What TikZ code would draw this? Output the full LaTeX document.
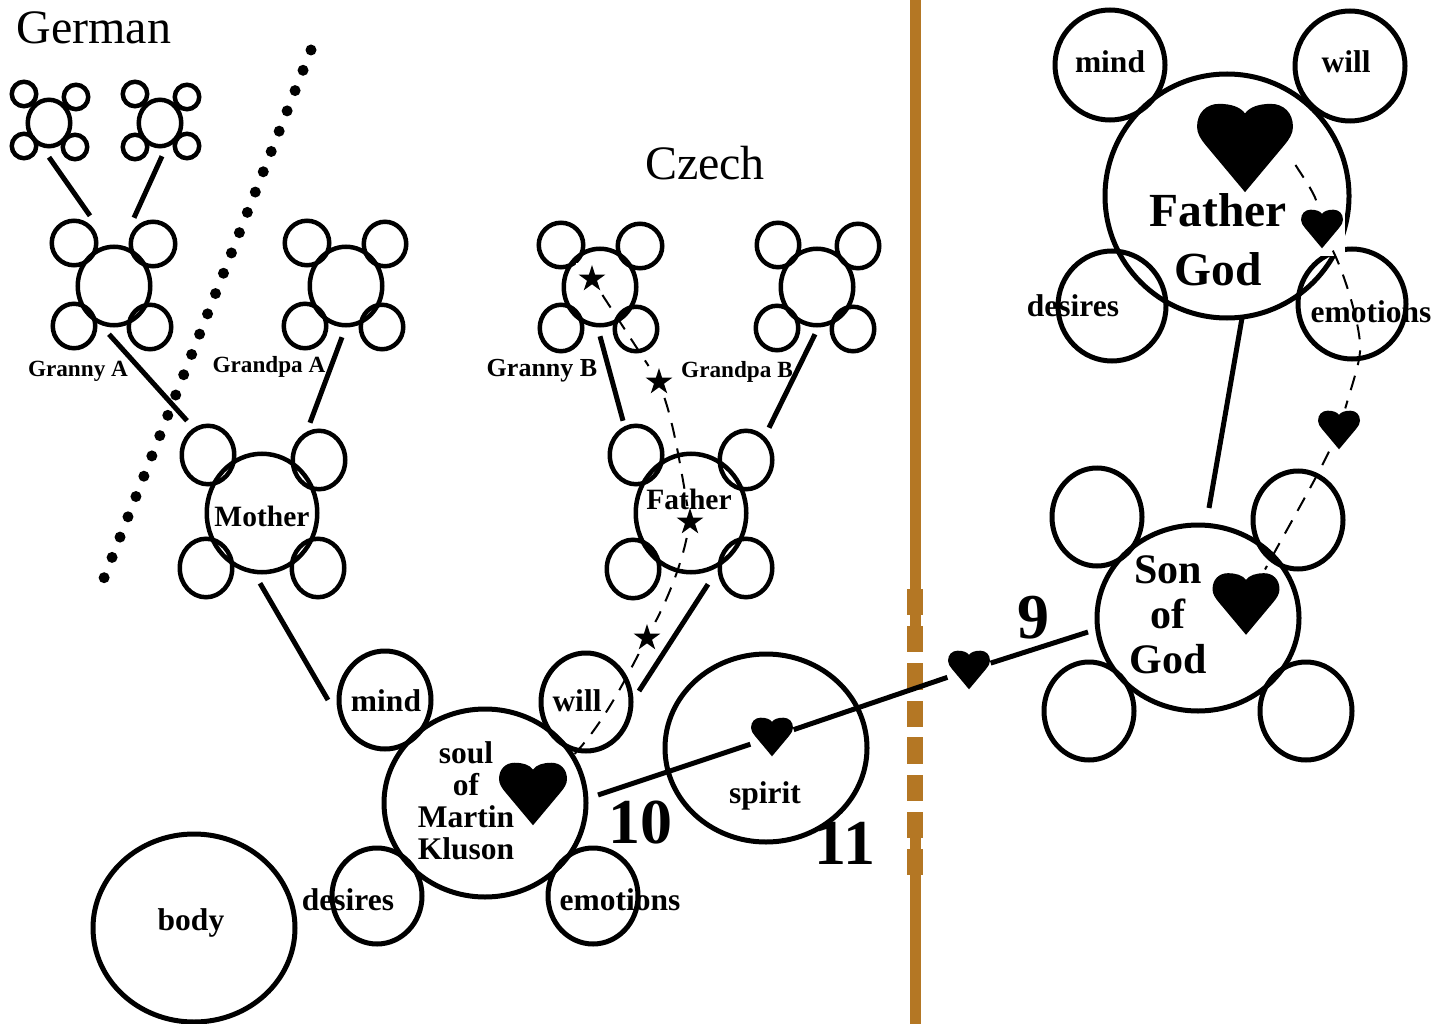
\documentclass[tikz,border=0pt]{standalone}
\usepackage{fontspec}
\setmainfont{Liberation Serif}
\usetikzlibrary{shapes.geometric}
\definecolor{barbrown}{HTML}{B47724}
\newcommand{\ringnode}[6][4.5]{\node[ringst,line width=#1pt,minimum width=2*#5pt-#1pt+3pt,minimum height=2*#6pt-#1pt+3pt] (#2) at (#3,#4) {};}
\tikzset{
  ringst/.style={ellipse,draw=black,inner sep=0pt,outer sep=0pt},
  link/.style={line width=5pt,black},
  linkthin/.style={line width=2pt,black,dash pattern=on 15pt off 11pt},
  heartnode/.style={rectangle,fill=white,inner sep=0pt,outer sep=0pt,minimum width=#1*1.03pt,minimum height=#1*1.03pt,
    path picture={\fill[black,shift={(path picture bounding box.center)},x=#1*0.01pt,y=-#1*0.01pt]
      (0,46) -- (-41,-3) .. controls (-46,-9) and (-50,-15) .. (-50,-22)
      .. controls (-50,-37) and (-40,-46) .. (-27,-46)
      .. controls (-15,-46) and (-5,-43) .. (0,-36)
      .. controls (5,-43) and (15,-46) .. (27,-46)
      .. controls (40,-46) and (50,-37) .. (50,-22)
      .. controls (50,-15) and (46,-9) .. (41,-3) -- cycle;}},
  starnode/.style={rectangle,fill=white,inner sep=0pt,outer sep=0pt,minimum width=32pt,minimum height=32pt,
    path picture={\fill[black,shift={(path picture bounding box.center)},x=14pt,y=-14pt]
      (0,-1) -- (.22,-.31) -- (.95,-.31) -- (.36,.12) -- (.59,.81) -- (0,.38)
      -- (-.59,.81) -- (-.36,.12) -- (-.95,-.31) -- (-.22,-.31) -- cycle;}},
  lab/.style={anchor=base,inner sep=0pt,font=\bfseries\fontsize{31.5}{32}\selectfont,align=center},
  title/.style={anchor=base,inner sep=0pt,font=\fontsize{48}{50}\selectfont},
  kin/.style={anchor=base,inner sep=0pt,font=\bfseries\fontsize{23.2}{25}\selectfont},
  numlab/.style={anchor=base,inner sep=0pt,font=\bfseries\fontsize{64}{66}\selectfont},
}
\begin{document}
\begin{tikzpicture}[x=1pt,y=-1pt]
\useasboundingbox (0,0) rectangle (1450,1024);

% boundary bar
\fill[barbrown] (910,0) rectangle (921,626);
\fill[barbrown] (910,838) rectangle (921,1024);
\foreach \ya/\yb in {589/615,626/652,663/690,701/727,737/764,775/801,812/838,849/875}
  \fill[barbrown] (907,\ya) rectangle (923,\yb);

% dotted divider
\coordinate (dotA) at (311,50);
\coordinate (dotB) at (104,578);
\draw[line width=11pt,line cap=round,dash pattern=on 0pt off 21.8pt] (dotA) -- (dotB);

% great-grandparents
\ringnode{tla}{49}{123}{22}{24}
\ringnode{tlaa}{24}{94}{13}{13}
\ringnode{tlab}{76}{97}{13}{13}
\ringnode{tlac}{24}{146}{13}{13}
\ringnode{tlad}{75}{147}{13}{13}
\ringnode{tlb}{160}{123}{22}{24}
\ringnode{tlba}{135}{94}{13}{13}
\ringnode{tlbb}{187}{97}{13}{13}
\ringnode{tlbc}{135}{147}{13}{13}
\ringnode{tlbd}{187}{146}{13}{13}
% Granny A
\ringnode{gA}{114}{286}{37}{40}
\ringnode{gAa}{74}{243}{23}{23}
\ringnode{gAb}{153}{244}{23}{23}
\ringnode{gAc}{74}{326}{22}{23}
\ringnode{gAd}{150}{327}{22}{23}
% Grandpa A
\ringnode{pA}{346}{286}{37}{40}
\ringnode{pAa}{307}{243}{23}{23}
\ringnode{pAb}{385}{244}{22}{23}
\ringnode{pAc}{305}{326}{22}{23}
\ringnode{pAd}{382}{327}{22}{23}
% Granny B
\ringnode{gB}{600}{287}{37}{39}
\ringnode{gBa}{561}{245}{23}{23}
\ringnode{gBb}{640}{246}{23}{23}
\ringnode{gBc}{561}{328}{22}{24}
\ringnode{gBd}{636}{329}{22}{23}
% Grandpa B
\ringnode{pB}{817}{287}{37}{39}
\ringnode{pBa}{778}{245}{22}{23}
\ringnode{pBb}{858}{246}{22}{23}
\ringnode{pBc}{777}{328}{22}{23}
\ringnode{pBd}{853}{329}{22}{23}
% Mother
\ringnode{mo}{262}{513}{56}{60}
\ringnode{moa}{208}{455}{27}{30}
\ringnode{mob}{319}{460}{27}{30}
\ringnode{moc}{206}{568}{27}{30}
\ringnode{mod}{318}{568}{27}{30}
% Father
\ringnode{fa}{691}{513}{56}{60}
\ringnode{faa}{636}{455}{27}{30}
\ringnode{fab}{746}{460}{27}{30}
\ringnode{fac}{633}{569}{27}{30}
\ringnode{fad}{746}{568}{27}{30}
% soul
\ringnode[5]{so}{485}{803}{102}{95}
\ringnode[5]{som}{385}{700}{47}{50}
\ringnode[5]{sow}{586}{702}{46}{50}
\ringnode[5]{sod}{377}{896}{46}{49}
\ringnode[5]{soe}{593}{896}{46}{49}
% spirit, body
\ringnode[5]{sp}{766}{748}{102}{95}
\ringnode[5]{bd}{194}{928}{102}{95}
% Father God
\ringnode[5]{fg}{1227}{196}{123}{123}
\ringnode[5]{fgm}{1110}{65}{56}{56}
\ringnode[5]{fgw}{1350}{66}{56}{56}
\ringnode[5]{fgd}{1112}{306}{55}{56}
\ringnode[5]{fge}{1352}{304}{55}{56}
% Son of God
\ringnode[5]{sg}{1198}{618}{102}{94}
\ringnode[5]{sga}{1097}{517}{46}{50}
\ringnode[5]{sgb}{1298}{520}{46}{50}
\ringnode[5]{sgc}{1089}{711}{46}{50}
\ringnode[5]{sgd}{1306}{711}{47}{50}

% white ground of the small heart in Father God
\fill[white] (1300,210) rectangle (1345,256);

% hearts and stars
\node[heartnode=96] (hFG) at (1245,148) {};
\node[heartnode=42] (hFGs) at (1322,229) {};
\node[heartnode=42] (hR) at (1339,430) {};
\node[heartnode=67] (hS) at (1246,604) {};
\node[heartnode=42] (hM) at (969,670) {};
\node[heartnode=42] (hSp) at (772,737) {};
\node[heartnode=68] (hSo) at (533,794) {};
\node[starnode] (sa) at (592,279) {};
\node[starnode] (sb) at (659,382) {};
\node[starnode] (sc) at (690,522) {};
\node[starnode] (sd) at (647,638) {};

% solid links
\draw[link] ([shift={(0,11)}]tla.south) -- ([shift={(-24,-31)}]gA.north);
\draw[link] ([shift={(2,10)}]tlb.south) -- ([shift={(20,-29)}]gA.north);
\draw[link] ([shift={(-5,9)}]gA.south) -- ([shift={(-75,-33)}]mo.north);
\draw[link] ([shift={(-4,12)}]pA.south) -- ([shift={(48,-31)}]mo.north);
\draw[link] ([shift={(0,11)}]gB.south) -- ([shift={(-68,-33)}]fa.north);
\draw[link] ([shift={(-2,9)}]pB.south) -- ([shift={(78,-26)}]fa.north);
\draw[link] ([shift={(-2,11)}]mo.south) -- ([shift={(-11,0)}]som.west);
\draw[link] ([shift={(17,12)}]fa.south) -- ([shift={(8,-11)}]sow.east);
\draw[link] ([shift={(15,0)}]fg.south) -- ([shift={(11,-17)}]sg.north);
\draw[link] ([shift={(12,-8)}]so.east) -- (hSp);
\draw[link] (hSp) -- (hM);
\draw[link] (hM) -- ([shift={(-9,14)}]sg.west);

% dashed links
\draw[linkthin] ([shift={(1,17)}]hFG.east) .. controls (1305,180) and (1316,195) .. (hFGs);
\draw[linkthin] (hFGs) .. controls (1345,275) and (1362,330) .. (1360,352) .. controls (1359,365) and (1352,385) .. (hR);
\draw[linkthin] (hR) .. controls (1318,475) and (1295,515) .. (hS);
\draw[linkthin] (sa) -- (sb);
\draw[linkthin] (sb) .. controls (672,420) and (678,450) .. (sc);
\draw[linkthin] (sc) .. controls (682,560) and (672,590) .. (sd);
\draw[linkthin] (sd) .. controls (625,680) and (600,730) .. (hSo);

% text
\node[title] (tGerman) at (94,44) {German};
\node[title] (tCzech) at (705,180) {Czech};
\node[kin] (tGrannyA) at (78,376) {Granny A};
\node[kin] (tGrandpaA) at (269,372) {Grandpa A};
\node[kin,font=\bfseries\fontsize{26}{28}\selectfont] (tGrannyB) at (542,376) {Granny B};
\node[kin] (tGrandpaB) at (737,377) {Grandpa B};
\node[lab,font=\bfseries\fontsize{29.5}{32}\selectfont] (tMother) at (262,526) {Mother};
\node[lab,font=\bfseries\fontsize{29.5}{32}\selectfont] (tFather) at (689,509) {Father};
\node[lab] (tMind) at (386,711) {mind};
\node[lab] (tWill) at (577,711) {will};
\node[lab] (tSoul) at (466,859) {soul\\of\\Martin\\Kluson};
\node[lab] (tDesires) at (348,910) {desires};
\node[lab] (tEmotions) at (620,910) {emotions};
\node[lab] (tBody) at (191,930) {body};
\node[lab] (tSpirit) at (765,803) {spirit};
\node[numlab] (tTen) at (640,843) {10};
\node[numlab] (tEleven) at (845,864) {11};
\node[numlab] (tNine) at (1033,638) {9};
\node[lab] (tMindR) at (1110,73) {mind};
\node[lab] (tWillR) at (1346,73) {will};
\node[lab,font=\bfseries\fontsize{47.5}{58.5}\selectfont] (tFG) at (1218,285) {Father\\God};
\node[lab] (tDesiresR) at (1073,316) {desires};
\node[lab] (tEmotionsR) at (1371,322) {emotions};
\node[lab,font=\bfseries\fontsize{42}{45}\selectfont] (tSG) at (1168,673) {Son\\of\\God};
\end{tikzpicture}
\end{document}
